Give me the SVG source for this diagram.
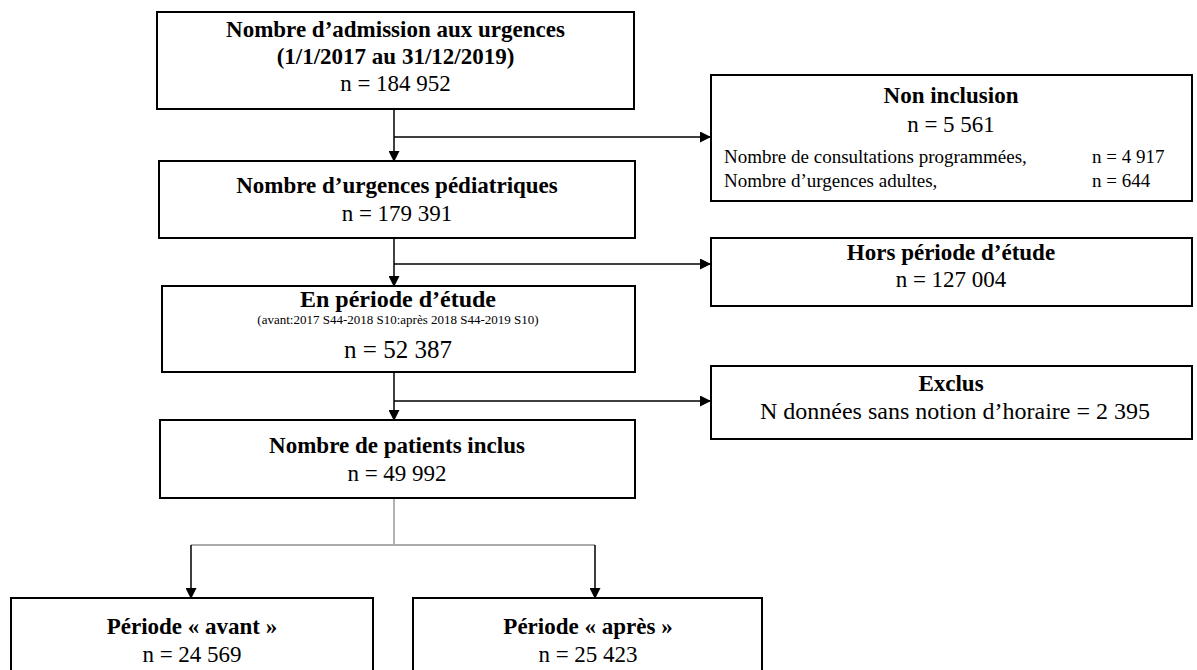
<svg xmlns="http://www.w3.org/2000/svg" width="1197" height="670" viewBox="0 0 1197 670">
<defs>
<style>
.box{fill:#fff;stroke:#000;stroke-width:2}
.t{font-family:"Liberation Serif","Times New Roman",serif;fill:#000;text-anchor:middle}
.b{font-weight:bold;font-size:23px}
.r{font-size:23px}
.s{font-size:19px;text-anchor:start}
.line{stroke:#000;stroke-width:1.5;fill:none}
.gray{stroke:#aaa;stroke-width:1.8;fill:none}
</style>
<marker id="ah" markerWidth="11" markerHeight="11" refX="10" refY="5.5" orient="auto" markerUnits="userSpaceOnUse" viewBox="0 0 11 11">
<path d="M0,0 L11,5.5 L0,11 z" fill="#000"/>
</marker>
</defs>
<rect width="1197" height="670" fill="#fff"/>
<g id="connectors">
<line class="line" x1="394" y1="110" x2="394" y2="161" marker-end="url(#ah)"/>
<line class="line" x1="394" y1="137" x2="710" y2="137" marker-end="url(#ah)"/>
<line class="line" x1="394" y1="238" x2="394" y2="286" marker-end="url(#ah)"/>
<line class="line" x1="394" y1="264" x2="710" y2="264" marker-end="url(#ah)"/>
<line class="line" x1="394" y1="372" x2="394" y2="420" marker-end="url(#ah)"/>
<line class="line" x1="394" y1="401" x2="710" y2="401" marker-end="url(#ah)"/>
<polyline class="gray" points="394,498 394,545"/>
<polyline class="gray" points="191,545 595,545"/>
<line class="line" x1="191" y1="545" x2="191" y2="598" marker-end="url(#ah)"/>
<line class="line" x1="595" y1="545" x2="595" y2="598" marker-end="url(#ah)"/>
</g>
<g id="n1">
<rect class="box" x="157" y="12" width="477" height="97"/>
<text class="t b" x="395.5" y="37">Nombre d’admission aux urgences</text>
<text class="t b" x="395.5" y="64">(1/1/2017 au 31/12/2019)</text>
<text class="t r" x="395.5" y="91">n = 184 952</text>
</g>
<g id="n_noninc">
<rect class="box" x="711" y="75" width="481" height="126"/>
<text class="t b" x="951" y="103">Non inclusion</text>
<text class="t r" x="951" y="132">n = 5 561</text>
<text class="t s" x="724" y="163">Nombre de consultations programmées,</text>
<text class="t s" x="1092" y="163">n = 4 917</text>
<text class="t s" x="724" y="187">Nombre d’urgences adultes,</text>
<text class="t s" x="1092" y="187">n = 644</text>
</g>
<g id="n2">
<rect class="box" x="159" y="161" width="476" height="77"/>
<text class="t b" x="397" y="193">Nombre d’urgences pédiatriques</text>
<text class="t r" x="397" y="221">n = 179 391</text>
</g>
<g id="n_hors">
<rect class="box" x="711" y="238" width="481" height="68"/>
<text class="t b" x="951" y="260">Hors période d’étude</text>
<text class="t r" x="951" y="287">n = 127 004</text>
</g>
<g id="n3">
<rect class="box" x="162" y="286" width="473" height="86"/>
<text class="t b" x="398" y="307" style="font-size:24px">En période d’étude</text>
<text class="t" x="398" y="324" style="font-size:13px">(avant:2017 S44-2018 S10:après 2018 S44-2019 S10)</text>
<text class="t" x="398" y="358" style="font-size:25px">n = 52 387</text>
</g>
<g id="n_exclus">
<rect class="box" x="711" y="366" width="481" height="73"/>
<text class="t b" x="951" y="391">Exclus</text>
<text class="t" x="955" y="419" style="font-size:24px">N données sans notion d’horaire = 2 395</text>
</g>
<g id="n4">
<rect class="box" x="160" y="420" width="475" height="78"/>
<text class="t b" x="397" y="453">Nombre de patients inclus</text>
<text class="t r" x="397" y="481">n = 49 992</text>
</g>
<g id="n_avant">
<rect class="box" x="11" y="598" width="362" height="80"/>
<text class="t b" x="192" y="634">Période « avant »</text>
<text class="t r" x="192" y="662">n = 24 569</text>
</g>
<g id="n_apres">
<rect class="box" x="413" y="598" width="349" height="80"/>
<text class="t b" x="588" y="634">Période « après »</text>
<text class="t r" x="588" y="662">n = 25 423</text>
</g>
</svg>
